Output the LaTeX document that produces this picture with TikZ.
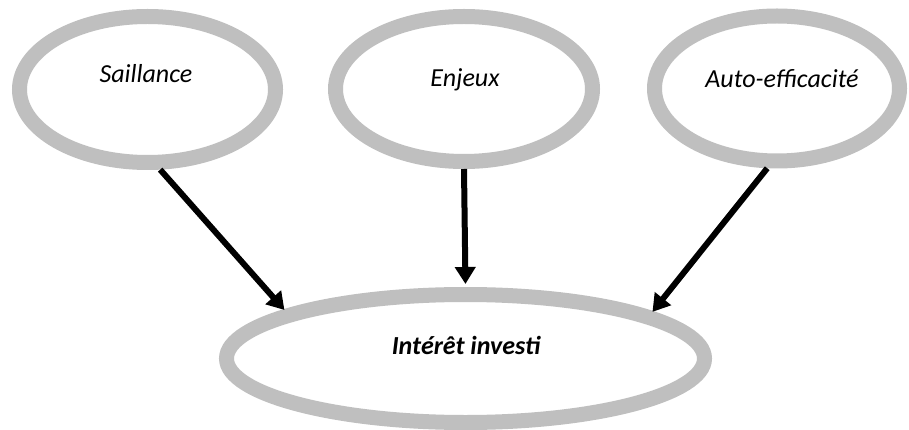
\documentclass[tikz,border=0pt]{standalone}
\usepackage{fontspec}
\setmainfont{Carlito}
\usetikzlibrary{shapes.geometric,arrows.meta}
\definecolor{ringgray}{RGB}{191,191,191}
\begin{document}
\begin{tikzpicture}[x=1pt,y=-1pt,
  ring/.style={ellipse, draw=ringgray, line width=15pt, fill=white, inner sep=0pt},
  lbl/.style={font=\fontsize{26}{30}\selectfont\itshape, inner sep=0pt, anchor=base},
  blbl/.style={font=\fontsize{26}{30}\selectfont\bfseries\itshape, inner sep=0pt, anchor=base},
  link/.style={line width=6pt, -{Triangle[width=20pt,length=17pt]}}]
\useasboundingbox (0,0) rectangle (909,430);
\node[ring, minimum width=256pt, minimum height=146pt] (s) at (147.5,89.5) {};
\node[ring, minimum width=257pt, minimum height=145pt] (e) at (464,89) {};
\node[ring, minimum width=245pt, minimum height=145pt] (a) at (777,88.5) {};
\node[ring, minimum width=478pt, minimum height=128pt] (b) at (465.5,358.5) {};
\node[lbl] (ts) at (146,83) {Saillance};
\node[lbl] (te) at (465,87) {Enjeux};
\node[lbl] (ta) at (782,88) {Auto-efficacité};
\node[blbl] (tb) at (466,354) {Intérêt investi};
\draw[link] (s.-81) -- (b.165);
\draw[link, shorten >=3pt] (e.south) -- (b.north);
\draw[link] (a.-97) -- (b.14.5);
\end{tikzpicture}
\end{document}
